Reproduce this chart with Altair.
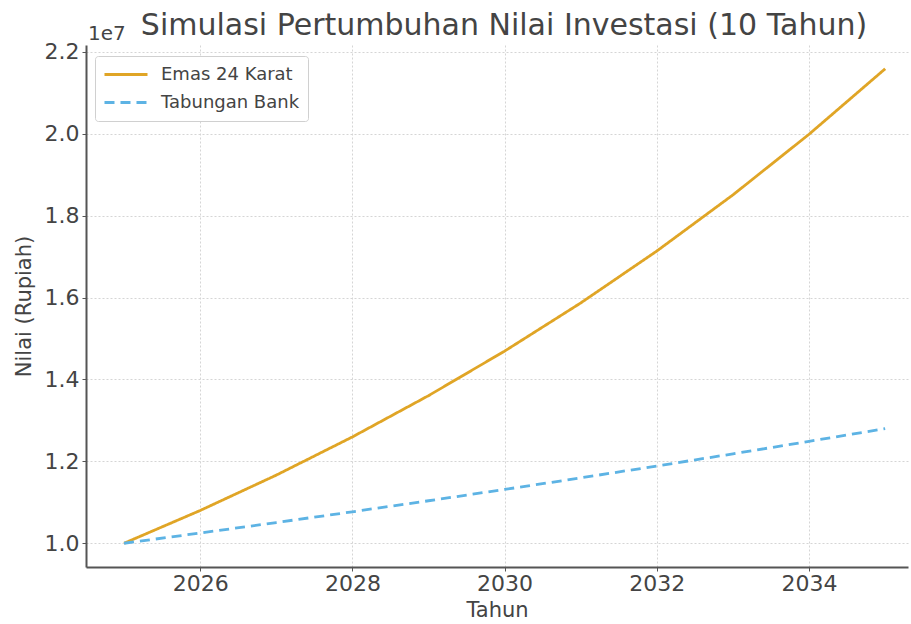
import altair as alt
import pandas as pd

years = [2025, 2026, 2027, 2028, 2029, 2030, 2031, 2032, 2033, 2034, 2035]
emas = [10000000, 10800000, 11664000, 12597000, 13605000, 14693000,
        15869000, 17138000, 18509000, 19990000, 21589000]
bank = [10000000, 10250000, 10506000, 10769000, 11038000, 11314000,
        11597000, 11887000, 12184000, 12489000, 12801000]
series_names = ["Emas 24 Karat", "Tabungan Bank"]
colors = ["#E0A526", "#5DB3E4"]
title_text = "Simulasi Pertumbuhan Nilai Investasi (10 Tahun)"

rows = []
for i, y in enumerate(years):
    rows.append({"Tahun": y, "Nilai": emas[i], "Seri": series_names[0]})
    rows.append({"Tahun": y, "Nilai": bank[i], "Seri": series_names[1]})
df = pd.DataFrame(rows)

FONT = "DejaVu Sans"

lines = alt.Chart(df).mark_line(strokeWidth=2.8, clip=True).encode(
    x=alt.X("Tahun:Q", scale=alt.Scale(domain=[2024.5, 2035.3], nice=False, zero=False),
            axis=alt.Axis(values=[2026, 2028, 2030, 2032, 2034], format="d", title="Tahun")),
    y=alt.Y("Nilai:Q", scale=alt.Scale(domain=[9420000, 22170000], nice=False, zero=False),
            axis=alt.Axis(values=[10000000, 12000000, 14000000, 16000000, 18000000, 20000000, 22000000],
                          labelExpr="format(datum.value/1e7, '.1f')", title="Nilai (Rupiah)")),
    color=alt.Color("Seri:N", scale=alt.Scale(domain=series_names, range=colors),
                    legend=alt.Legend(title=None, orient="none", legendX=9, legendY=11,
                                      symbolType="stroke", symbolStrokeWidth=2.8, symbolSize=1850,
                                      labelFontSize=18, labelFont=FONT, labelColor="#444",
                                      strokeColor="#d0d0d0", fillColor="white", padding=8,
                                      cornerRadius=3, rowPadding=7, labelOffset=12,
                                      clipHeight=21)),
    strokeDash=alt.StrokeDash("Seri:N", scale=alt.Scale(domain=series_names, range=[[1, 0], [10, 6]]),
                              legend=None),
)

exp_text = alt.Chart(pd.DataFrame({"t": ["1e7"]})).mark_text(
    font=FONT, fontSize=20, color="#444", align="left", baseline="alphabetic"
).encode(x=alt.value(2), y=alt.value(-5), text="t:N")

title_mark = alt.Chart(pd.DataFrame({"t": [title_text]})).mark_text(
    font=FONT, fontSize=30, color="#444", align="center", baseline="alphabetic"
).encode(x=alt.value(418), y=alt.value(-10), text="t:N")

chart = alt.layer(lines, exp_text, title_mark).properties(
    width=822, height=522,
    padding={"left": 86, "top": 45, "right": 3, "bottom": 57},
    autosize=alt.AutoSizeParams(type="none"),
).configure_view(stroke=None).configure_axis(
    labelFont=FONT, titleFont=FONT, labelFontSize=22, titleFontSize=21,
    labelColor="#444", titleColor="#444", titleFontWeight="normal",
    gridColor="#d5d5d5", gridDash=[2, 2], gridWidth=1,
    domainColor="#555", domainWidth=2, tickColor="#555", tickSize=4,
).configure_axisX(labelPadding=2, titlePadding=5).configure_axisY(labelPadding=3, titlePadding=10)

chart.save("out.html", embed_options={"renderer": "svg", "actions": False})
